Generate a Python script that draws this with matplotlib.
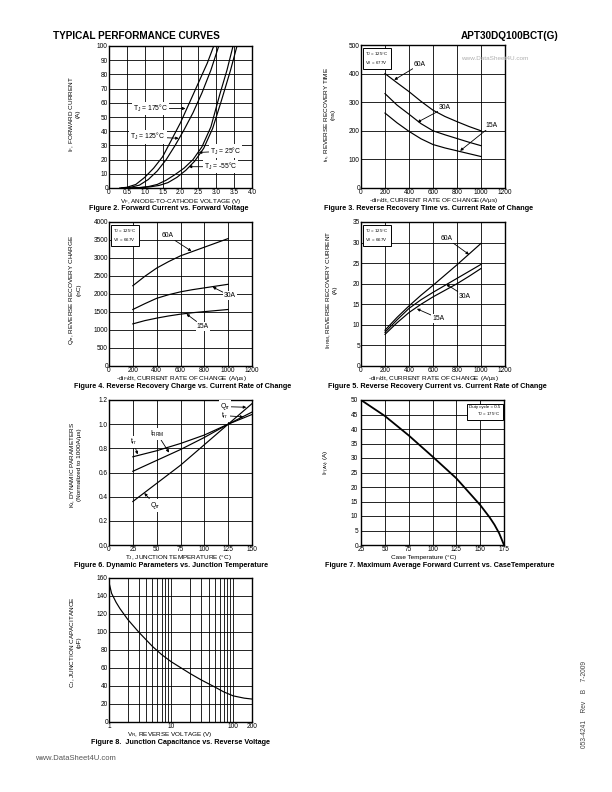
import numpy as np
import matplotlib
matplotlib.use('Agg')
import matplotlib.pyplot as plt
from matplotlib.ticker import FixedLocator, NullFormatter

plt.rcParams['font.family'] = ['Liberation Sans', 'DejaVu Sans']
plt.rcParams['mathtext.fontset'] = 'custom'
plt.rcParams['mathtext.rm'] = 'Liberation Sans'
plt.rcParams['mathtext.it'] = 'Liberation Sans'
plt.rcParams['mathtext.bf'] = 'Liberation Sans:bold'

# ---------------- data ----------------
# Figure 2: forward current vs forward voltage
vf_175 = [0.30, 0.50, 0.75, 1.00, 1.25, 1.50, 1.75, 2.00, 2.25, 2.50, 2.75, 2.93]
if_175 = [0, 0.5, 2.5, 7.5, 14, 22, 34, 46, 60, 74, 88, 100]
vf_125 = [0.35, 0.60, 0.85, 1.10, 1.35, 1.60, 1.85, 2.10, 2.35, 2.60, 2.85, 3.07]
if_125 = [0, 0.5, 2.0, 6.0, 12, 20, 30, 41, 53, 67, 83, 100]
vf_25 = [0.55, 0.85, 1.10, 1.35, 1.60, 1.85, 2.10, 2.35, 2.60, 2.85, 3.10, 3.30, 3.47]
if_25 = [0, 0.3, 1.0, 2.5, 5.5, 9.5, 14, 20, 29, 43, 66, 83, 100]
vf_m55 = [0.65, 0.90, 1.15, 1.40, 1.65, 1.90, 2.15, 2.40, 2.65, 2.90, 3.15, 3.40, 3.58]
if_m55 = [0, 0.3, 0.8, 1.8, 3.8, 7.5, 12.5, 19, 28, 42, 62, 83, 100]

# Figures 3-5: vs current rate of change
di = [200, 300, 400, 500, 600, 700, 800, 900, 1000]
trr_60 = [400, 368, 337, 303, 272, 250, 232, 215, 200]
trr_30 = [330, 290, 258, 225, 200, 186, 173, 160, 148]
trr_15 = [262, 228, 198, 172, 152, 140, 130, 120, 110]

qrr_60 = [2230, 2490, 2720, 2900, 3060, 3180, 3300, 3420, 3540]
qrr_30 = [1570, 1730, 1880, 1980, 2060, 2120, 2170, 2220, 2270]
qrr_15 = [1170, 1260, 1330, 1390, 1440, 1480, 1510, 1540, 1570]

irrm_60 = [8.7, 11.8, 14.6, 17.2, 19.6, 22.1, 24.6, 27.2, 29.8]
irrm_30 = [8.2, 11.2, 14.0, 16.1, 17.9, 19.6, 21.3, 23.0, 24.7]
irrm_15 = [7.7, 10.5, 13.0, 15.0, 16.8, 18.4, 20.0, 21.8, 23.7]

# Figure 6: dynamic parameters vs junction temperature
tj = [25, 50, 75, 100, 125, 150]
kf_trr = [0.73, 0.78, 0.84, 0.91, 1.00, 1.08]
kf_irrm = [0.61, 0.70, 0.79, 0.89, 1.00, 1.10]
kf_qrr = [0.36, 0.51, 0.66, 0.83, 1.00, 1.17]

# Figure 7: max average forward current vs case temperature
tc = [25, 50, 75, 100, 125, 150, 160, 165, 170, 175]
if_av = [50, 44.5, 37.8, 30.5, 23, 13.8, 9.5, 7, 4, 0]

# Figure 8: junction capacitance vs reverse voltage
vr = [1, 1.1, 1.3, 1.5, 2, 3, 5, 7, 10, 20, 30, 50, 70, 100, 150, 200]
cj = [155, 143, 133, 126, 114, 100, 84, 75, 67, 54, 47, 39, 33.5, 29, 26.5, 25.5]

# ---------------- figure ----------------
W, H = 612, 792
fig = plt.figure(figsize=(6.12, 7.92), dpi=100)

TICK_FS = 4.7
LAB_FS = 4.6
CAP_FS = 5.2
ANN_FS = 4.9
LW = 0.85


def add_ax(l, r, t, b):
    return fig.add_axes([l / W, 1 - b / H, (r - l) / W, (b - t) / H])


def style(ax):
    ax.grid(True, which='both', color='black', lw=0.6)
    ax.tick_params(which='both', length=0, labelsize=TICK_FS, pad=0.8)
    for s in ax.spines.values():
        s.set_linewidth(1.0)


def ftext(x, y, s, **kw):
    fig.text(x / W, 1 - y / H, s, **kw)


def ylab(x, y, s):
    ftext(x, y, s, rotation=90, ha='center', va='center', fontsize=LAB_FS,
          multialignment='center', linespacing=1.1)


def xlab(x, y, s):
    ftext(x, y, s, ha='center', va='center', fontsize=LAB_FS)


def cap(x, y, s):
    ftext(x, y, s, ha='left', va='center', fontsize=CAP_FS, fontweight='bold')


def ann(ax, s, xy, xytext, ha='left'):
    ax.annotate(s, xy=xy, xytext=xytext, fontsize=ANN_FS, ha=ha, va='center',
                bbox=dict(boxstyle='square,pad=0.15', fc='white', ec='none'),
                arrowprops=dict(arrowstyle='-|>', lw=0.6, color='black',
                                mutation_scale=4, shrinkA=0, shrinkB=0))


def box(ax, s, x, y, ha='left'):
    ax.text(x, y, s, transform=ax.transAxes, fontsize=3.2, ha=ha, va='top',
            linespacing=1.3,
            bbox=dict(boxstyle='square,pad=0.5', fc='white', ec='black', lw=0.7))


# header
ftext(53, 36, 'TYPICAL PERFORMANCE CURVES', fontsize=7.2, fontweight='bold', ha='left', va='center')
ftext(461, 36, 'APT30DQ100BCT(G)', fontsize=7.2, fontweight='bold', ha='left', va='center')

# ---- Figure 2 ----
ax = add_ax(109, 252, 46, 188)
ax.plot(vf_175, if_175, color='black', lw=LW)
ax.plot(vf_125, if_125, color='black', lw=LW)
ax.plot(vf_25, if_25, color='black', lw=LW)
ax.plot(vf_m55, if_m55, color='black', lw=LW)
ax.set_xlim(0, 4.0)
ax.set_ylim(0, 100)
ax.set_xticks(np.arange(0, 4.01, 0.5))
ax.set_xticklabels(['0', '0.5', '1.0', '1.5', '2.0', '2.5', '3.0', '3.5', '4.0'])
ax.set_yticks(np.arange(0, 101, 10))
style(ax)
ann(ax, 'T$_J$ = 175°C', (2.14, 56), (0.68, 56))
ann(ax, 'T$_J$ = 125°C', (1.95, 35), (0.60, 36))
ann(ax, 'T$_J$ = 25°C', (2.51, 25), (2.82, 26))
ann(ax, 'T$_J$ = -55°C', (2.23, 15), (2.65, 15))
ylab(74, 114, 'I$_F$, FORWARD CURRENT\n(A)')
xlab(181, 201, 'V$_F$, ANODE-TO-CATHODE VOLTAGE (V)')
cap(89, 208.5, 'Figure 2. Forward Current vs. Forward Voltage')

# ---- Figure 3 ----
ax = add_ax(361, 505, 45, 188)
ax.plot(di, trr_60, color='black', lw=LW)
ax.plot(di, trr_30, color='black', lw=LW)
ax.plot(di, trr_15, color='black', lw=LW)
ax.set_xlim(0, 1200)
ax.set_ylim(0, 500)
ax.set_xticks(np.arange(0, 1201, 200))
ax.set_yticks(np.arange(0, 501, 100))
style(ax)
box(ax, 'T$_J$ = 125°C\nV$_R$ = 677V', 0.03, 0.965)
ann(ax, '60A', (277, 378), (440, 432))
ann(ax, '30A', (471, 230), (650, 281))
ann(ax, '15A', (826, 130), (1040, 219))
ylab(329, 114, 't$_{rr}$, REVERSE RECOVERY TIME\n(ns)')
xlab(433, 200.5, '-di$_F$/dt, CURRENT RATE OF CHANGE(A/μs)')
cap(324, 208.5, 'Figure 3. Reverse Recovery Time vs. Current Rate of Change')
ftext(461, 59, 'www.DataSheet4U.com', fontsize=4.6, color='#b0b0b0', ha='left', va='center')

# ---- Figure 4 ----
ax = add_ax(109, 252, 222, 366)
ax.plot(di, qrr_60, color='black', lw=LW)
ax.plot(di, qrr_30, color='black', lw=LW)
ax.plot(di, qrr_15, color='black', lw=LW)
ax.set_xlim(0, 1200)
ax.set_ylim(0, 4000)
ax.set_xticks(np.arange(0, 1201, 200))
ax.set_yticks(np.arange(0, 4001, 500))
style(ax)
box(ax, 'T$_J$ = 125°C\nV$_R$ = 667V', 0.03, 0.965)
ann(ax, '60A', (692, 3190), (445, 3612))
ann(ax, '30A', (870, 2195), (965, 1950))
ann(ax, '15A', (650, 1445), (735, 1110))
ylab(74, 290, 'Q$_{rr}$, REVERSE RECOVERY CHARGE\n(nC)')
xlab(181, 378.5, '-di$_F$/dt, CURRENT RATE OF CHANGE (A/μs)')
cap(74, 386.5, 'Figure 4. Reverse Recovery Charge vs. Current Rate of Change')

# ---- Figure 5 ----
ax = add_ax(361, 505, 222, 366)
ax.plot(di, irrm_60, color='black', lw=LW)
ax.plot(di, irrm_30, color='black', lw=LW)
ax.plot(di, irrm_15, color='black', lw=LW)
ax.set_xlim(0, 1200)
ax.set_ylim(0, 35)
ax.set_xticks(np.arange(0, 1201, 200))
ax.set_yticks(np.arange(0, 36, 5))
style(ax)
box(ax, 'T$_J$ = 125°C\nV$_R$ = 667V', 0.03, 0.965)
ann(ax, '60A', (900, 27.1), (665, 31.0))
ann(ax, '30A', (710, 19.9), (815, 17.0))
ann(ax, '15A', (466, 13.9), (595, 11.6))
ylab(331, 290, 'I$_{RRM}$, REVERSE RECOVERY CURRENT\n(A)')
xlab(433, 378.5, '-di$_F$/dt, CURRENT RATE OF CHANGE (A/μs)')
cap(328, 386.5, 'Figure 5. Reverse Recovery Current vs. Current Rate of Change')

# ---- Figure 6 ----
ax = add_ax(109, 252, 400, 545)
ax.plot(tj, kf_trr, color='black', lw=LW)
ax.plot(tj, kf_irrm, color='black', lw=LW)
ax.plot(tj, kf_qrr, color='black', lw=LW)
ax.set_xlim(0, 150)
ax.set_ylim(0, 1.2)
ax.set_xticks(np.arange(0, 151, 25))
ax.set_yticks(np.arange(0, 1.21, 0.2))
ax.set_yticklabels(['0.0', '0.2', '0.4', '0.6', '0.8', '1.0', '1.2'])
style(ax)
ann(ax, 't$_{rr}$', (30, 0.75), (22, 0.85))
ann(ax, 'I$_{RRM}$', (63, 0.765), (43, 0.92))
ann(ax, 'Q$_{rr}$', (37, 0.43), (43, 0.33))
ann(ax, 'Q$_{rr}$', (144, 1.14), (116, 1.145))
ann(ax, 't$_{rr}$', (141, 1.06), (118, 1.07))
ylab(75, 465, 'K$_f$, DYNAMIC PARAMETERS\n(Normalized to 1000A/μs)')
xlab(178, 557.5, 'T$_J$, JUNCTION TEMPERATURE (°C)')
cap(74, 565.5, 'Figure 6. Dynamic Parameters vs. Junction Temperature')

# ---- Figure 7 ----
ax = add_ax(361, 504, 400, 545)
ax.plot(tc, if_av, color='black', lw=1.3)
ax.set_xlim(25, 175)
ax.set_ylim(0, 50)
ax.set_xticks(np.arange(25, 176, 25))
ax.set_yticks(np.arange(0, 51, 5))
style(ax)
ax.tick_params(axis='y', pad=2.0)
box(ax, 'Duty cycle = 0.5\nT$_J$ = 175°C', 0.975, 0.965, ha='right')
ylab(327, 462, 'I$_{F(AV)}$ (A)')
xlab(424, 557.5, 'Case Temperature (°C)')
cap(325, 565.5, 'Figure 7. Maximum Average Forward Current vs. CaseTemperature')

# ---- Figure 8 ----
ax = add_ax(109, 252, 578, 722)
ax.plot(vr, cj, color='black', lw=LW)
ax.set_xscale('log')
ax.set_xlim(1, 200)
ax.set_ylim(0, 160)
ax.xaxis.set_major_locator(FixedLocator([1, 10, 100, 200]))
ax.set_xticklabels(['1', '10', '100', '200'])
ax.xaxis.set_minor_locator(FixedLocator([2, 3, 4, 5, 6, 7, 8, 9, 20, 30, 40, 50, 60, 70, 80, 90]))
ax.xaxis.set_minor_formatter(NullFormatter())
ax.set_yticks(np.arange(0, 161, 20))
style(ax)
ylab(75, 642, 'C$_J$, JUNCTION CAPACITANCE\n(pF)')
xlab(170, 734.5, 'V$_R$, REVERSE VOLTAGE (V)')
cap(91, 742.5, 'Figure 8.  Junction Capacitance vs. Reverse Voltage')

# footer / side text
ftext(35, 759, 'www.DataSheet4U.com', fontsize=5.5, color='#555555', ha='left', va='center')
ftext(584, 704, '053-4241    Rev    B    7-2009', fontsize=4.8, color='#444444',
      rotation=90, ha='center', va='center')

fig.savefig('out.png', dpi=100)
